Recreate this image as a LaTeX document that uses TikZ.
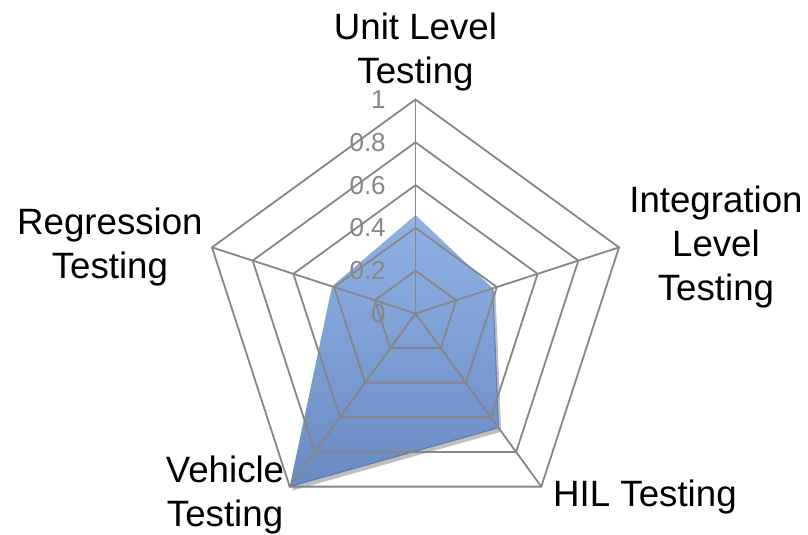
\documentclass[tikz,border=0pt]{standalone}
\usepackage{fontspec}
\setmainfont{Liberation Sans}
\usetikzlibrary{shadows}
\definecolor{gridgray}{RGB}{134,134,134}
\definecolor{areatop}{RGB}{143,178,228}
\definecolor{areabot}{RGB}{104,139,195}
\definecolor{areaedge}{RGB}{78,108,158}

\begin{document}
\begin{tikzpicture}[x=160.5pt,y=160.5pt,
    grid/.style={gridgray,line width=1.35pt},
    tick/.style={gridgray,anchor=east,inner sep=0pt,font=\fontsize{19.5}{22}\selectfont},
    axislabel/.style={align=center,inner sep=0pt,font=\fontsize{27.5}{33}\selectfont}]
                \useasboundingbox (-1.9416,-1.0350) rectangle (1.8341,1.4650);
                \coordinate (unit) at (90:0.46);
                \coordinate (integ) at (18:0.38);
                \coordinate (hil) at (-54:0.66);
                \coordinate (vehicle) at (-126:1);
                \coordinate (regr) at (162:0.41);
                \shade[top color=areatop,bottom color=areabot,
                    drop shadow={shadow xshift=2pt,shadow yshift=-3pt,opacity=0.5}]
                    (unit)--(integ)--(hil)--(vehicle)--(regr)--cycle;
                \draw[areaedge,line width=0.8pt,line join=round,opacity=0.7] (integ)--(hil)--(vehicle);
                \draw[grid] (90:0.2)--(18:0.2)--(-54:0.2)--(-126:0.2)--(162:0.2)--cycle;
                \draw[grid] (90:0.4)--(18:0.4)--(-54:0.4)--(-126:0.4)--(162:0.4)--cycle;
                \draw[grid] (90:0.6)--(18:0.6)--(-54:0.6)--(-126:0.6)--(162:0.6)--cycle;
                \draw[grid] (90:0.8)--(18:0.8)--(-54:0.8)--(-126:0.8)--(162:0.8)--cycle;
                \draw[grid] (90:1)--(18:1)--(-54:1)--(-126:1)--(162:1)--cycle;
                \draw[grid] (0,0)--(90:1);
                \draw[grid] (0,0)--(18:1);
                \draw[grid] (0,0)--(-54:1);
                \draw[grid] (0,0)--(-126:1);
                \draw[grid] (0,0)--(162:1);
                \node[tick] (t0) at (-0.138,0) {0};
                \node[tick] (t2) at (-0.138,0.2) {0.2};
                \node[tick] (t4) at (-0.138,0.4) {0.4};
                \node[tick] (t6) at (-0.138,0.6) {0.6};
                \node[tick] (t8) at (-0.138,0.8) {0.8};
                \node[tick] (t10) at (-0.138,1) {1};
                \node[axislabel] (unitlbl) at (0,1.222) {Unit Level\\Testing};
                \node[axislabel] (integlbl) at (1.404,0.311) {Integration\\Level\\Testing};
                \node[axislabel] (hillbl) at (1.072,-0.857) {HIL Testing};
                \node[axislabel] (vehiclelbl) at (-0.890,-0.848) {Vehicle\\Testing};
                \node[axislabel] (regrlbl) at (-1.428,0.311) {Regression\\Testing};
            \end{tikzpicture}
\end{document}
